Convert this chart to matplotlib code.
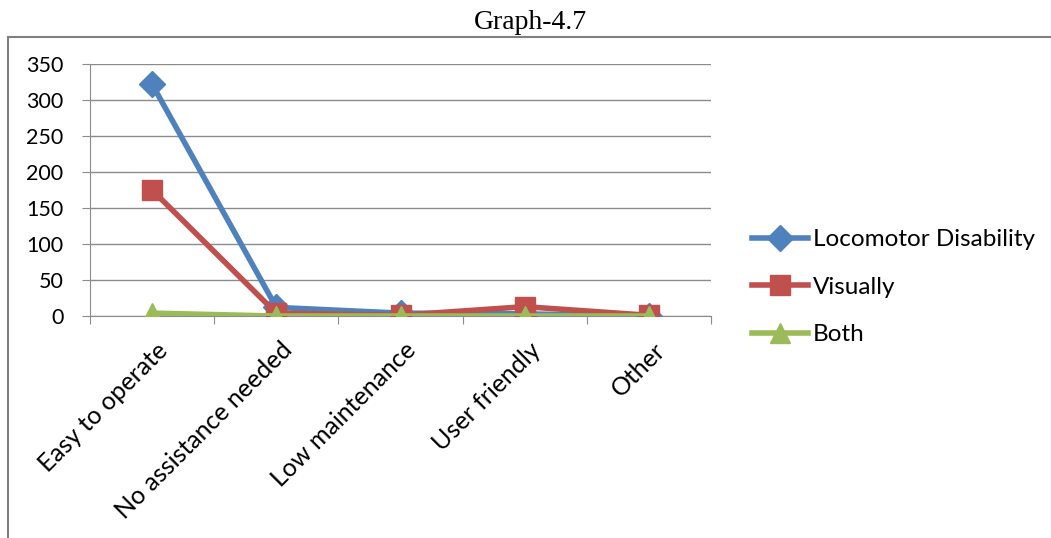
import matplotlib.pyplot as plt
from matplotlib.patches import Rectangle
from matplotlib.transforms import ScaledTranslation

categories = ['Easy to operate', 'No assistance needed', 'Low maintenance',
              'User friendly', 'Other']
locomotor = [322, 12, 4, 3, 0]
visually = [175, 4, 1, 13, 1]
both = [4, 0, 0, 0, 0]

plt.rcParams['font.family'] = ['Lato', 'DejaVu Sans']

fig = plt.figure(figsize=(10.51, 5.38), dpi=100)
ax = fig.add_axes([0.0856, 0.4126, 0.591, 0.4684])

x = list(range(len(categories)))
ax.plot(x, locomotor, color='#4F81BD', lw=4, marker='D', ms=13,
        label='Locomotor Disability', zorder=3)
ax.plot(x, visually, color='#C0504D', lw=4, marker='s', ms=14,
        label='Visually', zorder=4)
ax.plot(x, both, color='#9BBB59', lw=4, marker='^', ms=15,
        label='Both', zorder=5)

ax.set_xlim(-0.5, len(categories) - 0.5)
ax.set_ylim(0, 350)
ax.set_yticks(range(0, 351, 50))
ax.yaxis.grid(True, color='#8c8c8c', lw=1)
ax.set_axisbelow(True)

# category ticks sit between the points, like the spreadsheet default
ax.set_xticks([i - 0.5 for i in range(len(categories) + 1)])
ax.set_xticklabels([])
ax.set_xticks(x, minor=True)
ax.set_xticklabels(categories, minor=True, rotation=45, ha='right',
                   rotation_mode='anchor', fontsize=18)
ax.tick_params(axis='x', which='minor', length=0, pad=16)
ax.tick_params(axis='x', which='major', length=6, color='#8c8c8c')
ax.tick_params(axis='y', length=6, color='#8c8c8c', labelsize=15.5, pad=13)

for side in ['top', 'right']:
    ax.spines[side].set_visible(False)
ax.spines['left'].set_color('#8c8c8c')
ax.spines['bottom'].set_color('#8c8c8c')

for lbl in ax.get_xticklabels(minor=True):
    lbl.set_transform(lbl.get_transform() +
                      ScaledTranslation(0.04, 0, fig.dpi_scale_trans))

fig.legend(loc='center left', bbox_to_anchor=(0.6946, 0.466), frameon=False,
           fontsize=17.5, handlelength=2.3, labelspacing=1.09, handletextpad=0.2)

fig.text(0.505, 0.958, 'Graph-4.7', family='Liberation Serif', fontsize=20,
         ha='center', va='center')

# outer frame, cut off at right and bottom
fig.patches.append(Rectangle((8 / 1051, -0.2), 1.5, 1.2 - 37 / 538,
                             transform=fig.transFigure, fill=False,
                             ec='#7f7f7f', lw=1.5))

fig.savefig('out.png', dpi=100)
